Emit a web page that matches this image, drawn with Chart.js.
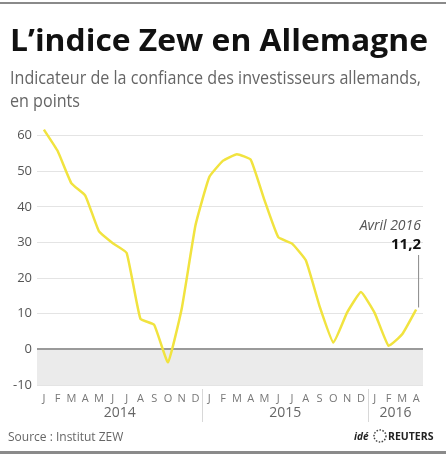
<!DOCTYPE html>
<html>
<head>
<meta charset="utf-8">
<script src="https://cdn.jsdelivr.net/npm/chart.js@4"></script>
<style>
  html, body { margin: 0; padding: 0; background: #fff; }
  #chart { display: block; }
</style>
</head>
<body>
<canvas id="chart" width="446" height="454"></canvas>
<script>
// months Jan 2014 .. Apr 2016
const months = ['J','F','M','A','M','J','J','A','S','O','N','D',
                'J','F','M','A','M','J','J','A','S','O','N','D',
                'J','F','M','A'];
const years = ['2014', '2015', '2016'];
const yearStarts = [0, 12, 24];
const zew = [61.7, 55.7, 46.6, 43.2, 33.1, 29.8, 27.1, 8.6, 6.9, -3.6, 11.5, 34.9,
             48.4, 53.0, 54.8, 53.3, 41.9, 31.5, 29.7, 25.0, 12.1, 1.9, 10.4, 16.1,
             10.2, 1.0, 4.3, 11.2];
const yTicks = [-10, 0, 10, 20, 30, 40, 50, 60];

const FONT = '"Open Sans", "Noto Sans", sans-serif';

// draw text scaled to a target width
const fitText = (ctx, text, x, y, width, weight, size, style) => {
    ctx.font = `${style || 'normal'} ${weight} ${size}px ${FONT}`;
    const w = ctx.measureText(text).width;
    const s = width / w;
    ctx.save();
    ctx.translate(x, y);
    ctx.scale(s, 1);
    ctx.fillText(text, 0, 0);
    ctx.restore();
};

const decorPlugin = {
    id: 'decor',
    beforeDraw: (chart) => {
        const { ctx, chartArea: a, scales: { y } } = chart;
        ctx.save();
        // shaded zone below zero
        ctx.fillStyle = '#ebebeb';
        ctx.fillRect(a.left, y.getPixelForValue(0), a.right - a.left, y.getPixelForValue(-10) - y.getPixelForValue(0));

        // borders top and bottom
        ctx.fillStyle = '#8a8a8a';
        ctx.fillRect(0, 2, chart.width, 2);
        ctx.fillRect(0, chart.height - 3, chart.width, 3);

        // title + subtitle
        ctx.textBaseline = 'alphabetic';
        ctx.textAlign = 'left';
        ctx.fillStyle = '#111';
        fitText(ctx, 'L’indice Zew en Allemagne', 10, 51, 418, 'bold', 30);
        ctx.fillStyle = '#666';
        fitText(ctx, 'Indicateur de la confiance des investisseurs allemands,', 10, 84, 411, 'normal', 18);
        fitText(ctx, 'en points', 10, 107, 70, 'normal', 18);

        // source
        ctx.fillStyle = '#666';
        ctx.font = `12px ${FONT}`;
        ctx.fillText('Source : Institut ZEW', 8, 441);

        // reuters logo
        ctx.fillStyle = '#222';
        ctx.font = `italic bold 10px ${FONT}`;
        ctx.fillText('idé', 354, 440);
        ctx.strokeStyle = '#444';
        ctx.lineWidth = 1.5;
        ctx.setLineDash([1.5, 1.5]);
        ctx.beginPath();
        ctx.arc(380, 436, 6, 0, Math.PI * 2);
        ctx.stroke();
        ctx.setLineDash([]);
        ctx.font = `bold 10.5px ${FONT}`;
        ctx.fillText('REUTERS', 388, 440);
        ctx.restore();
    },
    afterDraw: (chart) => {
        const { ctx, chartArea: a, scales: { x, y } } = chart;
        ctx.save();
        // year labels and separators
        ctx.fillStyle = '#666';
        ctx.font = `14px ${FONT}`;
        ctx.textAlign = 'center';
        ctx.textBaseline = 'middle';
        years.forEach((yr, i) => {
            const s = yearStarts[i];
            const e = (i + 1 < yearStarts.length ? yearStarts[i + 1] : months.length) - 1;
            let cx = (x.getPixelForValue(s) + x.getPixelForValue(e)) / 2;
            cx = Math.min(cx, a.right - 19);
            ctx.fillText(yr, cx, 413);
            if (i > 0) {
                const sx = Math.round((x.getPixelForValue(s - 1) + x.getPixelForValue(s)) / 2) + 0.5;
                ctx.strokeStyle = '#d8d8d8';
                ctx.lineWidth = 1;
                ctx.beginPath();
                ctx.moveTo(sx, a.bottom + 4);
                ctx.lineTo(sx, 422);
                ctx.stroke();
            }
        });

        // annotation for last value
        const last = zew.length - 1;
        const px = x.getPixelForValue(last);
        const py = y.getPixelForValue(zew[last]);
        ctx.strokeStyle = '#888';
        ctx.lineWidth = 1;
        ctx.beginPath();
        ctx.moveTo(px + 2.5, 255);
        ctx.lineTo(px + 2.5, py - 2);
        ctx.stroke();
        ctx.textAlign = 'right';
        ctx.textBaseline = 'alphabetic';
        ctx.fillStyle = '#555';
        ctx.font = `italic 14px ${FONT}`;
        ctx.fillText('Avril 2016', 421, 230);
        ctx.fillStyle = '#111';
        ctx.font = `bold 15px ${FONT}`;
        ctx.fillText(String(zew[last]).replace('.', ','), 421, 249);
        ctx.restore();
    }
};

new Chart(document.getElementById('chart'), {
    type: 'line',
    data: {
        labels: months,
        datasets: [{
            data: zew,
            borderColor: '#f1e33f',
            borderWidth: 2.5,
            pointRadius: 0,
            tension: 0.12,
            fill: false
        }]
    },
    options: {
        responsive: false,
        animation: false,
        events: [],
        layout: { padding: { top: 125, right: 23, left: 0, bottom: 0 } },
        plugins: { legend: { display: false }, tooltip: { enabled: false } },
        scales: {
            x: {
                offset: true,
                grid: { display: false, drawTicks: false },
                border: { display: false },
                ticks: { autoSkip: false, maxRotation: 0, padding: 7, color: '#777', font: { family: FONT, size: 11 } },
                afterFit: (s) => { s.height = 69; }
            },
            y: {
                min: -10,
                max: 63,
                afterBuildTicks: (s) => { s.ticks = yTicks.map(v => ({ value: v })); },
                afterFit: (s) => { s.width = 37; },
                grid: {
                    drawTicks: false,
                    color: (c) => c.tick && c.tick.value === 0 ? '#9a9a9a' : '#e4e4e4',
                    lineWidth: (c) => c.tick && c.tick.value === 0 ? 2 : 1
                },
                border: { display: false },
                ticks: { padding: 5, color: '#555', font: { family: FONT, size: 13 } }
            }
        }
    },
    plugins: [decorPlugin]
});
</script>
</body>
</html>
